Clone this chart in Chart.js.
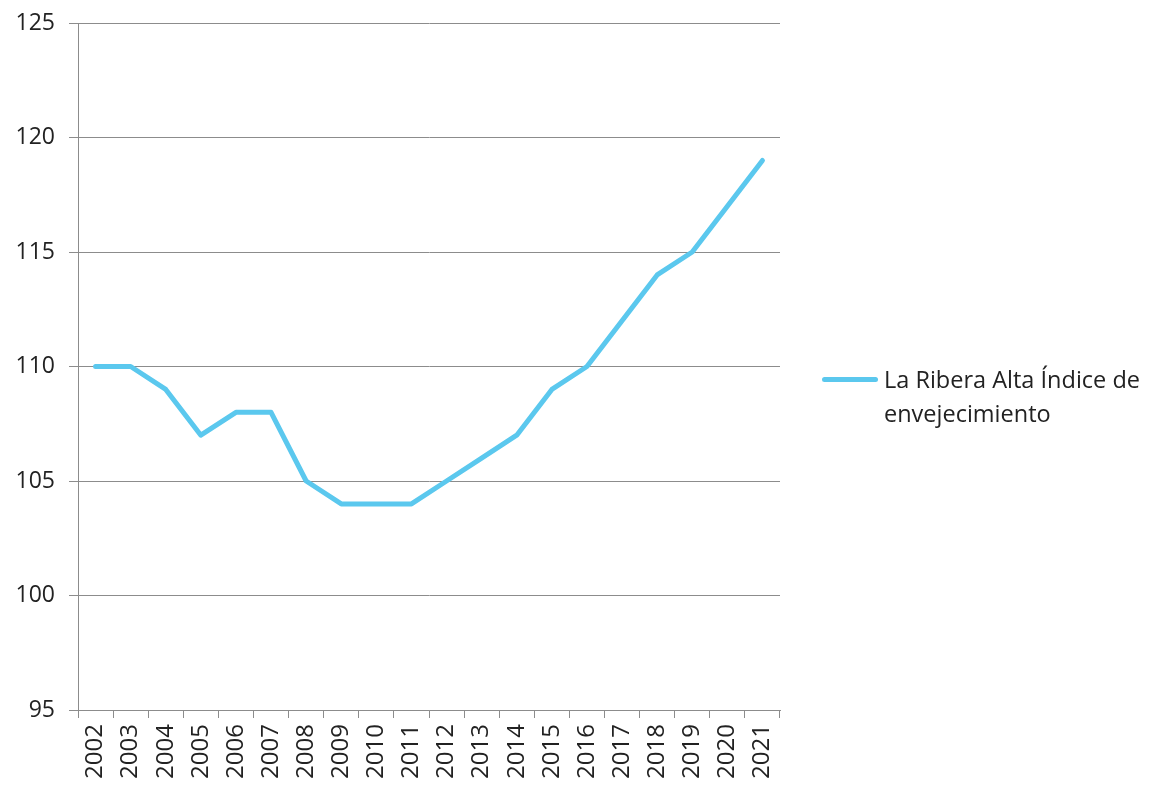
<!DOCTYPE html>
<html>
<head>
<meta charset="utf-8">
<script src="https://cdn.jsdelivr.net/npm/chart.js@4/dist/chart.umd.min.js"></script>
<style>
  html, body { margin: 0; padding: 0; background: #fff; }
  #wrap { position: relative; width: 1154px; height: 787px; }
  #legend {
    position: absolute; left: 822px; top: 362px;
    font-family: "Open Sans", sans-serif; font-size: 23.5px; color: #222;
    line-height: 34px;
  }
  #legend .swatch {
    position: absolute; left: 0; top: 15px; width: 56px; height: 5px;
    border-radius: 3px;
  }
  #legend .text { margin-left: 62px; width: 285px; }
</style>
</head>
<body>
<div id="wrap">
  <canvas id="chart" width="1154" height="787"></canvas>
  <div id="legend"></div>
</div>
<script>
// índice de envejecimiento, La Ribera Alta
const anios = ["2002","2003","2004","2005","2006","2007","2008","2009","2010","2011",
               "2012","2013","2014","2015","2016","2017","2018","2019","2020","2021"];
const indice = [110, 110, 109, 107, 108, 108, 105, 104, 104, 104,
                105, 106, 107, 109, 110, 112, 114, 115, 117, 119];
const serieNombre = "La Ribera Alta Índice de envejecimiento";
const colorLinea = "#5bc8ee";
const gris = "#8c8c8c";

Chart.defaults.font.family = "'Open Sans', sans-serif";
Chart.defaults.color = "#222";

let latestChart = new Chart(document.getElementById("chart"), {
  type: "line",
  data: {
    labels: anios,
    datasets: [{
      label: serieNombre,
      data: indice,
      borderColor: colorLinea,
      borderWidth: 5,
      pointRadius: 0,
      tension: 0,
      borderCapStyle: "round",
      borderJoinStyle: "round",
      fill: false,
    }],
  },
  options: {
    responsive: false,
    animation: false,
    layout: { padding: { left: 0, right: 374, top: 23, bottom: 0 } },
    plugins: { legend: { display: false }, tooltip: { enabled: false } },
    scales: {
      x: {
        offset: true,
        grid: { offset: true, drawOnChartArea: false, color: gris, tickLength: 8, tickColor: gris },
        border: { color: gris },
        ticks: { minRotation: 90, maxRotation: 90, font: { size: 24 }, padding: 6, autoSkip: false },
        afterFit: (s) => { s.height = 77; s.paddingLeft = 0; s.paddingRight = 0; },
      },
      y: {
        min: 95, max: 125,
        ticks: { stepSize: 5, font: { size: 23 }, padding: 14 },
        grid: { color: gris, tickLength: 9, tickColor: gris },
        border: { color: gris },
        afterFit: (s) => { s.width = 78; s.paddingTop = 0; s.paddingBottom = 0; },
      },
    },
  },
});

// leyenda a la derecha, con el texto partido en dos líneas
const ds = latestChart.data.datasets[0];
document.getElementById("legend").innerHTML =
  '<div class="swatch" style="background:' + ds.borderColor + '"></div>' +
  '<div class="text">' + ds.label + '</div>';
</script>
</body>
</html>
